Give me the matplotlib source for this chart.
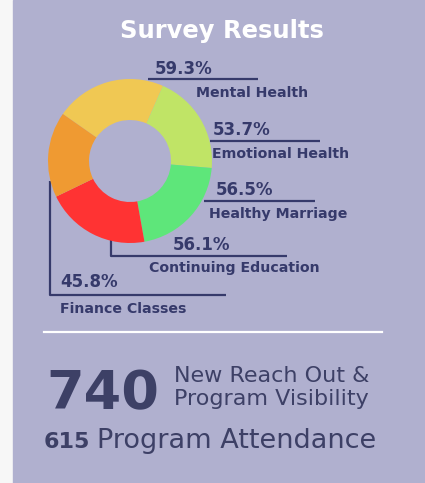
import matplotlib
matplotlib.use("Agg")
import matplotlib.pyplot as plt

# survey results (percent)
categories = ["Mental Health", "Emotional Health", "Healthy Marriage",
              "Continuing Education", "Finance Classes"]
values = [59.3, 53.7, 56.5, 56.1, 45.8]
colors = ["#F0C853", "#C0E466", "#5EE67A", "#FF3333", "#EF9A32"]

reach = 740
attendance = 615

W, H = 425, 483
bg = "#B0B0CF"
navy = "#363A6B"

plt.rcParams['font.family'] = ['DejaVu Sans']

fig = plt.figure(figsize=(W / 100, H / 100), dpi=100)
fig.patch.set_facecolor("#F7F7F7")

# full-figure axes in pixel coords for text and leader lines
ax = fig.add_axes([0, 0, 1, 1])
ax.set_xlim(0, W)
ax.set_ylim(H, 0)
ax.axis("off")
ax.add_patch(plt.Rectangle((13, 0), W - 13, H, color=bg, zorder=0))

ax.text(222, 38, "Survey Results", color="white", fontsize=17.5,
        fontweight="bold", ha="center", va="baseline")

# donut
cx, cy, r = 130, 161, 82
pax = fig.add_axes([(cx - r) / W, (H - cy - r) / H, 2 * r / W, 2 * r / H])
pax.pie(values, colors=colors, startangle=145, counterclock=False,
        wedgeprops=dict(width=0.5, linewidth=0))
pax.set_xlim(-1, 1)
pax.set_ylim(-1, 1)
pax.axis("off")

# label layout: (pct x, pct baseline, name x, name baseline, line points)
layout = [
    (155, 74, 196, 97, [(148, 79), (258, 79)]),
    (213, 135, 212, 158, [(210, 141), (320, 141)]),
    (216, 195, 209, 218, [(204, 201), (315, 201)]),
    (173, 250, 149, 272, [(111, 240), (111, 256), (287, 256)]),
    (60, 287, 60, 313, [(50, 181), (50, 295), (226, 295)]),
]
for name, val, (px, py, nx, ny, pts) in zip(categories, values, layout):
    ax.text(px, py, f"{val}%", color=navy, fontsize=12, fontweight="bold",
            va="baseline")
    ax.text(nx, ny, name, color=navy, fontsize=10.2, fontweight="bold",
            va="baseline")
    xs, ys = zip(*pts)
    ax.plot(xs, ys, color=navy, lw=1.6, solid_capstyle="butt")

# separator
ax.plot([44, 382], [332, 332], color="white", lw=1.6)

# bottom figures
ax.text(46, 409, str(reach), color="#3D4066", fontsize=39, fontweight="bold",
        va="baseline")
ax.text(174, 382, "New Reach Out &", color="#3D4066", fontsize=16,
        va="baseline")
ax.text(174, 405, "Program Visibility", color="#3D4066", fontsize=16,
        va="baseline")
ax.text(44, 448, str(attendance), color="#3D4066", fontsize=16,
        fontweight="bold", va="baseline")
ax.text(97, 448, "Program Attendance", color="#3D4066", fontsize=19.5,
        va="baseline")

fig.savefig("out.png", dpi=100, facecolor=fig.get_facecolor())
